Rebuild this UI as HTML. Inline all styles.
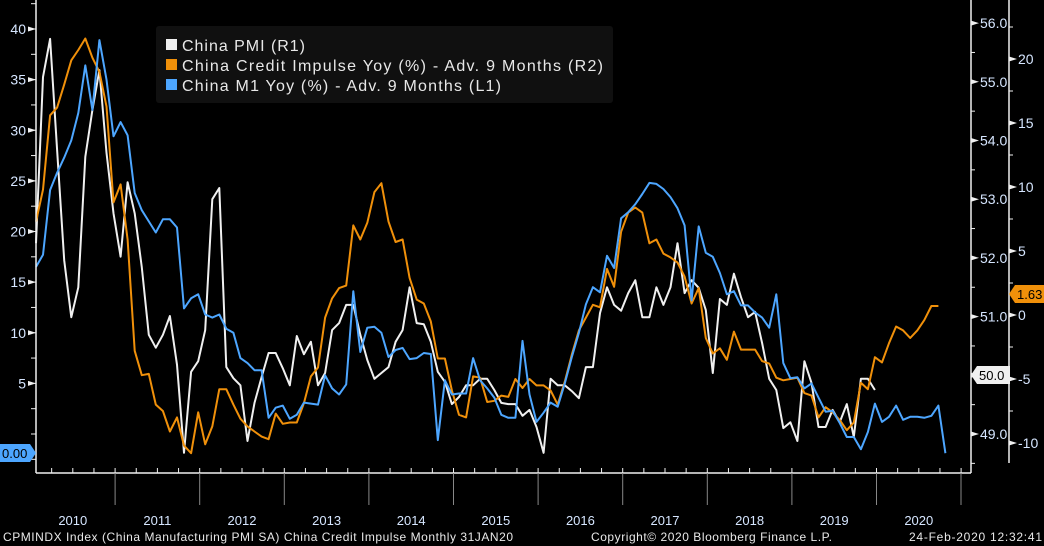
<!DOCTYPE html>
<html><head><meta charset="utf-8"><style>
html,body{margin:0;padding:0;background:#000;}
svg{display:block;font-family:"Liberation Sans","DejaVu Sans",sans-serif;}
</style></head><body>
<svg id="chart" width="1044" height="546" viewBox="0 0 1044 546" xmlns="http://www.w3.org/2000/svg">
<rect width="1044" height="546" fill="#000"/>
<g id="grid"></g>
<g id="series"></g>
<g id="axes"></g>
<g>
<rect x="156" y="26" width="457" height="77" rx="3" fill="#101010"/>
<rect x="166" y="39" width="11" height="11" fill="#f0f0f0"/>
<text x="182" y="51" fill="#e8e8e8" font-size="16" textLength="123">China PMI (R1)</text>
<rect x="166" y="59" width="11" height="11" fill="#f0900a"/>
<text x="182" y="71" fill="#e8e8e8" font-size="16" textLength="421">China Credit Impulse Yoy (%) - Adv. 9 Months (R2)</text>
<rect x="166" y="79" width="11" height="11" fill="#4da6ff"/>
<text x="182" y="91" fill="#e8e8e8" font-size="16" textLength="319">China M1 Yoy (%) - Adv. 9 Months (L1)</text>
</g>
<text x="3" y="541" fill="#e8e8e8" font-size="12" textLength="510">CPMINDX Index (China Manufacturing PMI SA) China Credit Impulse  Monthly 31JAN20</text>
<text x="591" y="541" fill="#e8e8e8" font-size="12" textLength="241">Copyright© 2020 Bloomberg Finance L.P.</text>
<text x="909" y="541" fill="#e8e8e8" font-size="12" textLength="133">24-Feb-2020 12:32:41</text>
</svg>
<script>
const years = ["2010","2011","2012","2013","2014","2015","2016","2017","2018","2019","2020"];
const leftTicks = [5,10,15,20,25,30,35,40];
const r1Ticks = [49,50,51,52,53,54,55,56];
const r2Ticks = [-10,-5,0,5,10,15,20];
const m1Values = [16.5,17.7,24.1,25.8,27.3,29.0,31.7,36.4,32.0,38.9,35.0,29.4,30.8,29.5,23.8,22.1,21.0,19.9,21.2,21.2,20.4,12.4,13.4,13.8,11.8,11.5,11.8,10.4,10.0,7.5,7.0,6.3,6.3,1.6,
2.6,2.8,1.5,1.9,3.1,3.0,2.9,5.8,4.5,3.9,4.9,14.1,8.1,10.5,10.6,10.0,7.6,8.3,8.5,7.4,7.5,8.0,7.9,-0.6,5.3,3.9,4.0,4.0,7.5,5.3,4.5,3.6,1.9,
1.6,1.6,9.2,3.9,1.2,2.1,3.1,2.7,5.0,7.6,10.0,12.8,14.5,14.0,17.6,16.4,21.3,21.9,22.7,23.7,24.8,24.7,24.2,23.4,22.3,20.6,13.2,20.5,17.9,17.5,15.9,13.8,
14.1,12.7,12.7,12.0,11.5,10.5,13.8,7.0,5.5,5.6,4.5,5.0,3.6,2.2,2.3,1.1,-0.3,-0.3,-1.5,0.2,3.0,1.2,1.7,2.8,1.4,1.7,1.7,1.6,1.8,2.8,-1.9];
const pmiValues = [52.25,55.08,55.73,53.84,51.96,50.99,51.50,53.72,54.52,55.20,53.79,52.76,52.02,53.29,52.76,51.84,50.69,50.47,50.69,51.01,50.18,48.68,50.06,50.24,50.77,53.00,53.19,50.14,49.95,49.83,48.88,49.53,49.97,50.38,
50.38,50.12,49.83,50.67,50.36,50.57,49.83,50.04,50.77,50.89,51.20,51.20,50.69,50.26,49.94,50.04,50.14,50.57,50.77,51.50,50.89,50.87,50.57,50.06,49.89,49.51,49.63,49.83,49.83,49.94,49.94,49.75,49.53,
49.51,49.51,49.31,49.41,49.12,48.68,49.94,49.83,49.83,49.73,49.61,50.14,50.14,51.06,51.50,51.20,51.10,51.40,51.62,50.99,50.99,51.50,51.20,51.50,52.25,51.40,51.62,51.49,51.11,50.04,51.30,51.20,
51.73,51.33,50.99,51.08,50.55,49.94,49.75,49.10,49.20,48.88,50.24,49.87,49.12,49.12,49.41,49.20,49.51,48.95,49.94,49.94,49.75];
const creditValues = [7.3,9.8,15.6,16.2,18.0,19.9,20.7,21.6,20.1,19.0,16.3,8.8,10.2,5.9,-2.8,-4.7,-4.6,-7.0,-7.5,-9.1,-8.0,-10.2,-10.8,-7.6,-10.1,-8.7,-5.8,-5.8,-7.0,-8.1,-8.7,-9.1,-9.5,-9.7,
-7.7,-8.5,-8.4,-8.4,-6.9,-4.8,-4.1,-0.2,1.3,2.1,2.3,7.0,5.9,7.2,9.6,10.3,7.3,5.7,5.9,2.9,1.2,0.9,-0.5,-3.4,-3.4,-5.9,-7.8,-8.0,-4.8,-4.9,-6.8,-6.7,-6.3,
-6.4,-5.0,-5.7,-5.0,-5.5,-5.5,-5.9,-7.0,-5.2,-3.1,-1.2,-0.2,0.8,0.6,3.6,2.2,6.5,8.0,8.4,8.0,5.6,5.9,4.8,4.5,4.1,3.0,0.9,2.1,-1.8,-3.0,-2.6,-3.5,
-1.3,-2.7,-2.7,-2.7,-3.6,-3.8,-4.9,-5.1,-5.0,-4.9,-6.1,-6.3,-8.0,-7.2,-7.6,-8.2,-9.0,-8.4,-5.3,-5.8,-3.3,-3.7,-2.2,-0.9,-1.2,-1.8,-1.2,-0.4,0.7,0.7];

const NS="http://www.w3.org/2000/svg";
function mk(tag, attrs, parent){const e=document.createElementNS(NS,tag);for(const k in attrs)e.setAttribute(k,attrs[k]);parent.appendChild(e);return e;}
const xAt = i => 36 + 7.05*i;
const yL = v => 434 - 10.125*v;
const yR1 = v => 434 - 58.7*(v-49);
const yR2 = v => 315 - 12.8*v;
const axes=document.getElementById('axes'), ser=document.getElementById('series');
const AX="#f0f0f0", LBL="#d6e6ff";

let e;
e=mk('line',{x1:36,y1:0,x2:36,y2:473,stroke:AX,'stroke-width':1.5},axes);


e=mk('line',{x1:36,y1:473,x2:971,y2:473,stroke:AX,'stroke-width':1.5},axes);


e=mk('line',{x1:971,y1:0,x2:971,y2:473,stroke:AX,'stroke-width':1.5},axes);


e=mk('line',{x1:1009,y1:0,x2:1009,y2:463,stroke:AX,'stroke-width':1.5},axes);



for(let v=-2.5; v<=42.5; v+=2.5){const y=yL(v); if(y<2||y>470)continue;
  e=mk('line',{x1:31,y1:y,x2:36,y2:y,stroke:AX,'stroke-width':1},axes);
  
  }
leftTicks.forEach(v=>{const y=yL(v);
  e=mk('polygon',{points:`${28},${y-2.5} ${36},${y} ${28},${y+2.5}`,fill:AX},axes);
  
  
  e=mk('text',{x:26,y:y+5,fill:LBL,'font-size':14,'text-anchor':'end'},axes);e.textContent=v;
  
  });
for(let v=48.5; v<=56.5; v+=0.5){const y=yR1(v); if(y<2||y>470)continue;
  e=mk('line',{x1:971,y1:y,x2:975,y2:y,stroke:AX,'stroke-width':1},axes);
  
  }
r1Ticks.forEach(v=>{const y=yR1(v);
  e=mk('polygon',{points:`${971},${y-2.5} ${979},${y} ${971},${y+2.5}`,fill:AX},axes);
  
  
  if(v===50) return;
  e=mk('text',{x:980,y:y+5,fill:LBL,'font-size':14},axes);e.textContent=v.toFixed(1);
  
  });
for(let v=-12.5; v<=22.5; v+=2.5){const y=yR2(v); if(y<2||y>462)continue;
  e=mk('line',{x1:1009,y1:y,x2:1013,y2:y,stroke:AX,'stroke-width':1},axes);
  
  }
r2Ticks.forEach(v=>{const y=yR2(v);
  e=mk('polygon',{points:`${1009},${y-2.5} ${1017},${y} ${1009},${y+2.5}`,fill:AX},axes);
  
  
  e=mk('text',{x:1018,y:y+5,fill:LBL,'font-size':14},axes);e.textContent=v;
  
  });
for(let m=1;m<=133;m++){const x=30.5+7.05*m; if(m%3!==0||x<38||x>968)continue;
  e=mk('line',{x1:x,y1:468,x2:x,y2:473,stroke:AX,'stroke-width':1},axes);
  
  }
years.forEach((yr,k)=>{const xs=30.5+84.6*k, xe=xs+84.6;
  if(k>0){e=mk('line',{x1:xs,y1:473,x2:xs,y2:505,stroke:'#888','stroke-width':1},axes);
    
    }
  e=mk('text',{x:(xs+xe)/2,y:525,fill:LBL,'font-size':13,'text-anchor':'middle'},axes);e.textContent=yr;
  
  });
e=mk('line',{x1:961,y1:473,x2:961,y2:505,stroke:'#888','stroke-width':1},axes);



function line(vals, yf, color, name){
  const d=vals.map((v,i)=>(i?'L':'M')+xAt(i).toFixed(1)+','+yf(v).toFixed(1)).join('');
  const p=mk('path',{d:d,fill:'none',stroke:color,'stroke-width':2,'stroke-linejoin':'round'},ser);
  
  
}
line(pmiValues, yR1, '#f0f0f0', 'pmi-line');
line(creditValues, yR2, '#f0900a', 'credit-impulse-line');
line(m1Values, yL, '#4da6ff', 'm1-line');

function tag(x,y,w,txt,bg,fg,dir,name){
  const pts = dir==='right' ? `${x},${y-9} ${x+w},${y-9} ${x+w+6},${y} ${x+w},${y+9} ${x},${y+9}`
                            : `${x},${y} ${x+6},${y-9} ${x+6+w},${y-9} ${x+6+w},${y+9} ${x+6},${y+9}`;
  const g=mk('g',{},axes);
  
  
  mk('polygon',{points:pts,fill:bg},g);
  const t=mk('text',{x:dir==='right'?x+2:x+8,y:y+5,fill:fg,'font-size':13},g);t.textContent=txt;
}
tag(0,453,30,'0.00','#4da6ff','#000','right','m1-last-value-tag');
tag(971,375,33,'50.0','#f0f0f0','#000','left','pmi-last-value-tag');
tag(1009,294,29,'1.63','#f0900a','#000','left','credit-last-value-tag');
</script>
</body></html>
